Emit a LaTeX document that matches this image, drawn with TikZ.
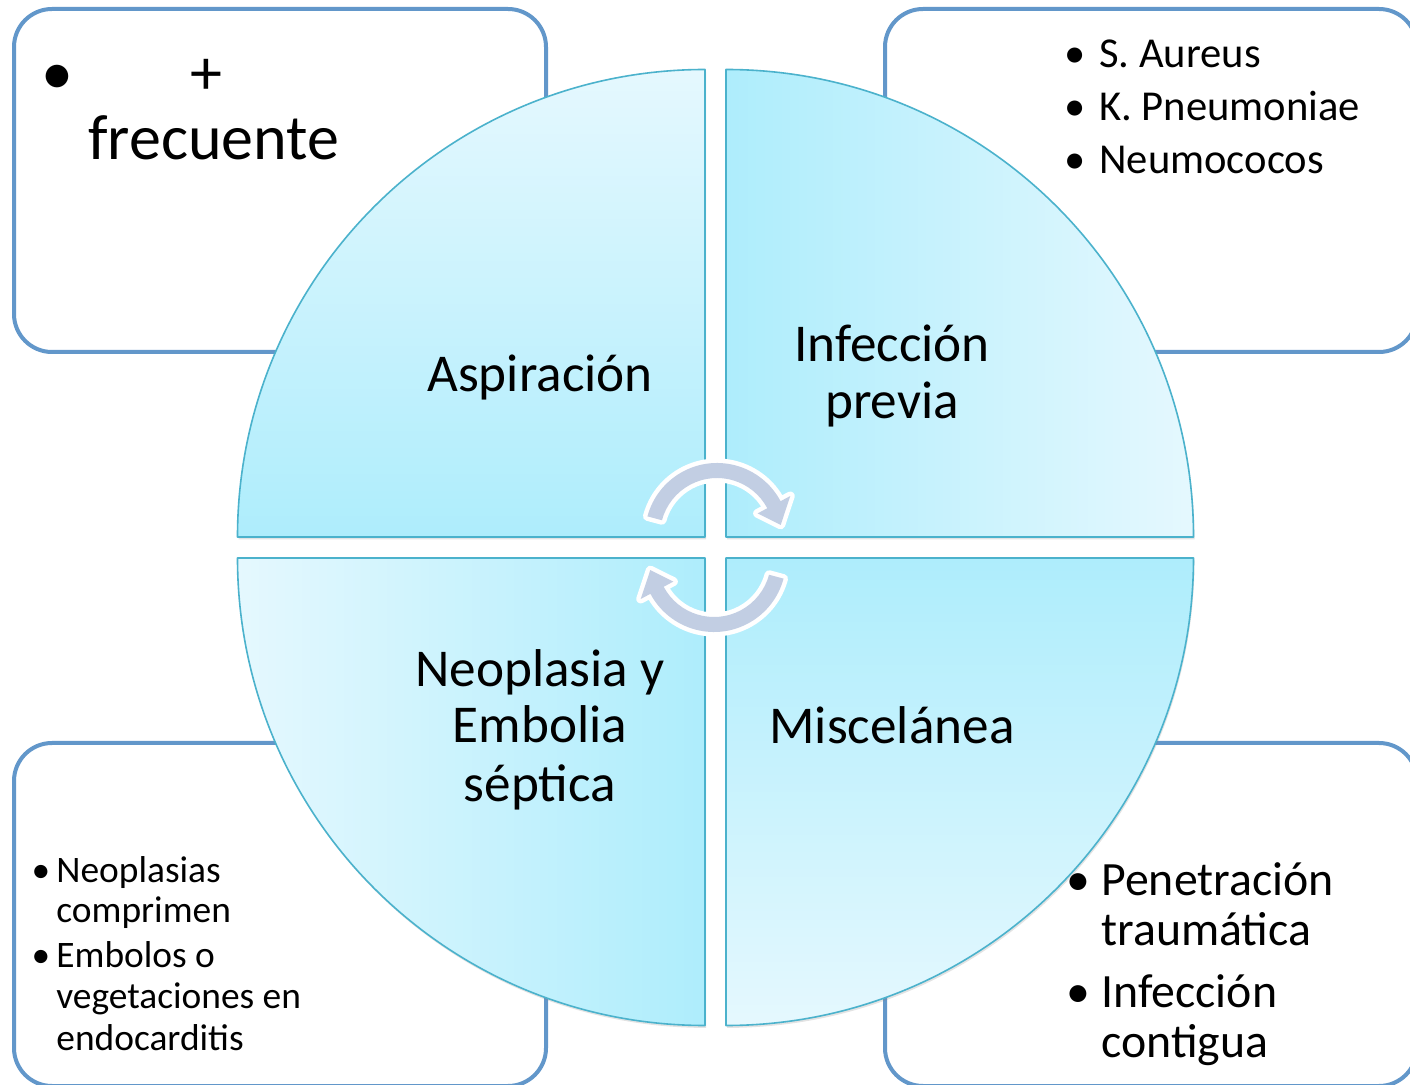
\documentclass[tikz,border=0pt]{standalone}
\usepackage{fontspec}
\setmainfont{Carlito}
\usetikzlibrary{shadows}
\definecolor{qlight}{RGB}{229,248,254}
\definecolor{qdark}{RGB}{174,237,252}
\definecolor{qborder}{RGB}{75,178,204}
\definecolor{boxborder}{RGB}{98,151,202}
\definecolor{arrowgray}{RGB}{194,206,227}
\tikzset{
  cornerbox/.style={draw=boxborder, line width=2pt, rounded corners=19pt, fill=white},
  quadshape/.style={draw=qborder, line width=0.8pt, line join=round,
    drop shadow={shadow xshift=0.5pt, shadow yshift=-1.2pt, opacity=0.22}},
  qlabel/.style={font=\fontsize{26.6pt}{28pt}\selectfont, inner sep=0pt, anchor=base},
  tltext/.style={font=\fontsize{32pt}{34pt}\selectfont, inner sep=0pt, anchor=base west},
  tlbul/.style={font=\fontsize{32pt}{34pt}\selectfont, inner sep=0pt, anchor=base},
  trtext/.style={font=\fontsize{21.3pt}{25pt}\selectfont, inner sep=0pt, anchor=base west},
  trbul/.style={font=\fontsize{21.3pt}{25pt}\selectfont, inner sep=0pt, anchor=base},
  bltext/.style={font=\fontsize{18.7pt}{21pt}\selectfont, inner sep=0pt, anchor=base west},
  blbul/.style={font=\fontsize{18.7pt}{21pt}\selectfont, inner sep=0pt, anchor=base},
  brtext/.style={font=\fontsize{23.9pt}{26pt}\selectfont, inner sep=0pt, anchor=base west},
  brbul/.style={font=\fontsize{23.9pt}{26pt}\selectfont, inner sep=0pt, anchor=base},
  arrowshape/.style={fill=arrowgray, preaction={draw=white, line width=4.5pt, line join=round}}
}
\begin{document}
\begin{tikzpicture}[x=0.5pt, y=0.5pt]
\useasboundingbox (0,0) rectangle (1410,-1085);
\clip (0,0) rectangle (1410,-1085);
\fill[white] (0,0) rectangle (1410,-1085);

% corner boxes
\draw[cornerbox] (14,-9) rectangle (546,-352);
\draw[cornerbox] (885,-9) rectangle (1417,-352);
\draw[cornerbox] (14,-743) rectangle (546,-1086);
\draw[cornerbox] (885,-743) rectangle (1417,-1086);

% quadrants
\draw[quadshape, top color=qlight, bottom color=qdark]
  (705,-537) -- (237.5,-537) arc[start angle=180, end angle=90, radius=233.75pt] -- cycle;
\draw[quadshape, left color=qdark, right color=qlight]
  (726,-537) -- (726,-69.5) arc[start angle=90, end angle=0, radius=233.75pt] -- cycle;
\draw[quadshape, left color=qlight, right color=qdark]
  (705,-558) -- (705,-1025.5) arc[start angle=270, end angle=180, radius=233.75pt] -- cycle;
\draw[quadshape, top color=qdark, bottom color=qlight]
  (726,-558) -- (1193.5,-558) arc[start angle=0, end angle=-90, radius=233.75pt] -- cycle;

% quadrant labels
\node[qlabel] (asp) at (540,-392) {Aspiración};
\node[qlabel] (infa) at (892,-362) {Infección};
\node[qlabel] (infb) at (892,-419) {previa};
\node[qlabel] (neoa) at (540,-687) {Neoplasia y};
\node[qlabel] (neob) at (540,-743) {Embolia};
\node[qlabel] (neoc) at (540,-801) {séptica};
\node[qlabel] (misc) at (892,-744) {Miscelánea};

% top-left box text
\node[tlbul] (tlb) at (57,-95) {•};
\node[tltext] (tlplus) at (190,-95) {+};
\node[tltext] (tlfrec) at (88,-160) {frecuente};

% top-right list
\node[trbul] (trb1) at (1075,-68) {•};
\node[trtext] (trt1) at (1099,-68) {S. Aureus};
\node[trbul] (trb2) at (1075,-121) {•};
\node[trtext] (trt2) at (1099,-121) {K. Pneumoniae};
\node[trbul] (trb3) at (1075,-174) {•};
\node[trtext] (trt3) at (1099,-174) {Neumococos};

% bottom-left list
\node[blbul] (blb1) at (41,-882) {•};
\node[bltext] (blt1) at (56,-882) {Neoplasias};
\node[bltext] (blt2) at (56,-922) {comprimen};
\node[blbul] (blb2) at (41,-967) {•};
\node[bltext] (blt3) at (56,-967) {Embolos o};
\node[bltext] (blt4) at (56,-1008) {vegetaciones en};
\node[bltext] (blt5) at (56,-1050) {endocarditis};

% bottom-right list
\node[brbul] (brb1) at (1078,-895) {•};
\node[brtext] (brt1) at (1101,-895) {Penetración};
\node[brtext] (brt2) at (1101,-945) {traumática};
\node[brbul] (brb2) at (1078,-1007) {•};
\node[brtext] (brt3) at (1101,-1007) {Infección};
\node[brtext] (brt4) at (1101,-1057) {contigua};

% circular arrows
\begin{scope}[shift={(717,-535)}]
  \path[arrowshape] (165:72) arc[start angle=165, end angle=28, radius=36pt]
    -- (28:83) -- (9:64.5) -- (28:46) -- (28:57)
    arc[start angle=28, end angle=165, radius=28.5pt] -- cycle;
\end{scope}
\begin{scope}[shift={(714,-560)}, rotate=180]
  \path[arrowshape] (165:72) arc[start angle=165, end angle=28, radius=36pt]
    -- (28:83) -- (9:64.5) -- (28:46) -- (28:57)
    arc[start angle=28, end angle=165, radius=28.5pt] -- cycle;
\end{scope}
\end{tikzpicture}
\end{document}
